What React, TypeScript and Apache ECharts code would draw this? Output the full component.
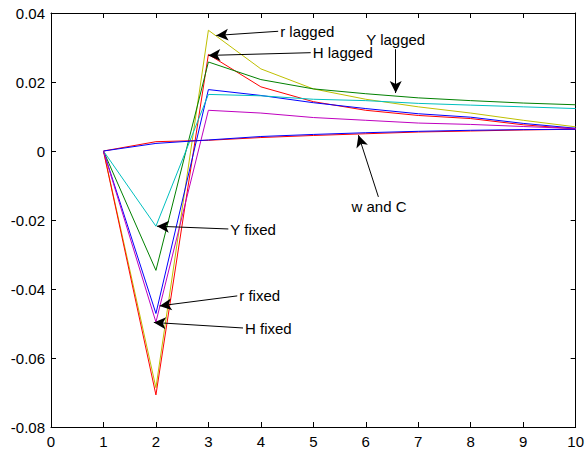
import React, { useEffect, useRef } from "react";
import * as echarts from "echarts";

const periods = [1, 2, 3, 4, 5, 6, 7, 8, 9, 10];
const rLagged = [0, -0.0686, 0.035, 0.0238, 0.018, 0.015, 0.0128, 0.011, 0.0089, 0.007];
const hLagged = [0, -0.0707, 0.028, 0.0186, 0.0143, 0.0118, 0.0103, 0.0094, 0.0076, 0.0064];
const yLagged = [0, -0.0346, 0.0258, 0.0207, 0.018, 0.0166, 0.0154, 0.0146, 0.0139, 0.0134];
const rFixed = [0, -0.0471, 0.0178, 0.0161, 0.014, 0.0123, 0.0108, 0.0098, 0.008, 0.0066];
const yFixed = [0, -0.0218, 0.0164, 0.016, 0.015, 0.0146, 0.0138, 0.0133, 0.0128, 0.0123];
const hFixed = [0, -0.0496, 0.0118, 0.011, 0.0097, 0.0089, 0.0081, 0.0077, 0.0071, 0.0065];
const wSeries = [0, 0.0022, 0.0032, 0.0042, 0.0048, 0.0053, 0.0057, 0.006, 0.0062, 0.0063];
const cSeries = [0, 0.0027, 0.0031, 0.0039, 0.0045, 0.005, 0.0055, 0.0058, 0.0061, 0.0063];

const xTicks = { min: 0, max: 10, interval: 1 };
const yTicks = { min: -0.08, max: 0.04, interval: 0.02 };

// annotation: text, tail [x,y], head [x,y]
const annotations: [string, number[], number[]][] = [
  ["r lagged", [4.33, 0.0347], [3.15, 0.0335]],
  ["H lagged", [4.95, 0.0285], [3.0, 0.0277]],
  ["Y lagged", [6.57, 0.0295], [6.57, 0.0168]],
  ["w and C", [6.24, -0.0133], [5.86, 0.0046]],
  ["Y fixed", [3.38, -0.0226], [2.02, -0.0218]],
  ["r fixed", [3.55, -0.042], [2.07, -0.0449]],
  ["H fixed", [3.66, -0.0513], [1.96, -0.0497]],
];

const FONT = "'Liberation Sans', Arial, Helvetica, sans-serif";

const seriesDefs: [string, number[], string][] = [
  ["r lagged", rLagged, "#BFBF00"],
  ["H lagged", hLagged, "#FF0000"],
  ["Y lagged", yLagged, "#008000"],
  ["r fixed", rFixed, "#0000FF"],
  ["Y fixed", yFixed, "#00BFBF"],
  ["H fixed", hFixed, "#BF00BF"],
  ["C", cSeries, "#FF0000"],
  ["w", wSeries, "#0000FF"],
];

export default function App() {
  const ref = useRef<HTMLDivElement>(null);
  useEffect(() => {
    document.body.style.margin = "0";
    const chart = echarts.init(ref.current!, undefined, { renderer: "svg" });
    const axisCommon = {
      axisLine: { show: true, onZero: false, lineStyle: { color: "#000", width: 1 } },
      axisTick: { show: true, inside: true, length: 5, lineStyle: { color: "#000" } },
      splitLine: { show: false },
    };
    const series: any[] = seriesDefs.map(([name, vals, color]) => ({
      name,
      type: "line",
      data: periods.map((p, i) => [p, vals[i]]),
      symbol: "none",
      lineStyle: { color, width: 1 },
      itemStyle: { color },
      silent: true,
    }));
    series.push({
      name: "annotations",
      type: "line",
      data: [],
      silent: true,
      markLine: {
        silent: true,
        symbol: ["none", "arrow"],
        symbolSize: [9, 12],
        lineStyle: { color: "#000", width: 1, type: "solid" },
        label: {
          show: true,
          position: "start",
          distance: 2,
          color: "#000",
          fontSize: 15,
          fontFamily: FONT,
          formatter: (p: any) => p.name,
        },
        data: annotations.map(([text, tail, head]) => [
          { name: text, coord: tail },
          { coord: head },
        ]),
      },
    });
    chart.setOption({
      animation: false,
      grid: { left: 51, right: 9, top: 13, bottom: 28, containLabel: false },
      xAxis: [
        {
          type: "value",
          position: "bottom",
          ...xTicks,
          ...axisCommon,
          axisLabel: { color: "#000", fontSize: 15, fontFamily: FONT, margin: 7 },
        },
        {
          type: "value",
          position: "top",
          ...xTicks,
          ...axisCommon,
          axisLabel: { show: false },
        },
      ],
      yAxis: [
        {
          type: "value",
          position: "left",
          ...yTicks,
          ...axisCommon,
          axisLabel: {
            color: "#000",
            fontSize: 15,
            fontFamily: FONT,
            margin: 6,
            formatter: (v: number) => String(parseFloat(v.toFixed(2))),
          },
        },
        {
          type: "value",
          position: "right",
          ...yTicks,
          ...axisCommon,
          axisLabel: { show: false },
        },
      ],
      series,
    });
    return () => chart.dispose();
  }, []);
  return <div ref={ref} style={{ width: 587, height: 455, background: "#fff" }} />;
}
